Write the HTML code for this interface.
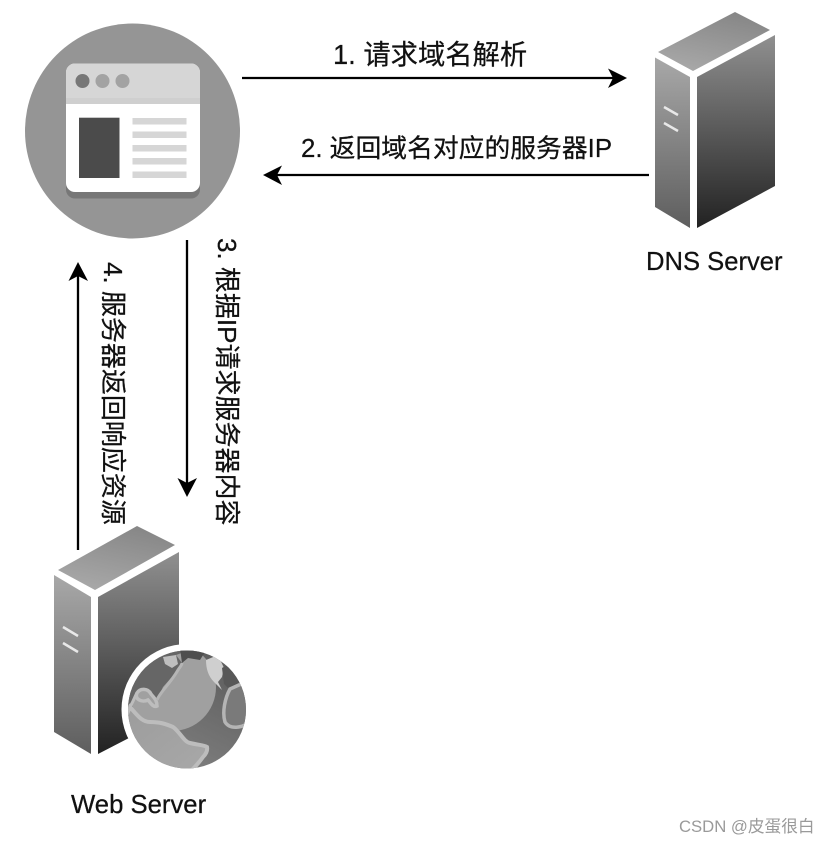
<!DOCTYPE html>
<html><head><meta charset="utf-8">
<style>
html,body{margin:0;padding:0;background:#fff;width:828px;height:844px;overflow:hidden}
svg{display:block}
text{font-family:"Liberation Sans","Noto Sans CJK SC",sans-serif;fill:#111;stroke:#111;stroke-width:.25}
</style></head>
<body>
<svg width="828" height="844" viewBox="0 0 828 844" xmlns="http://www.w3.org/2000/svg">
<defs>
<linearGradient id="top" x1="0.3" y1="1" x2="0.7" y2="0"><stop offset="0" stop-color="#a8a8a8"/><stop offset="1" stop-color="#868686"/></linearGradient>
<linearGradient id="left" x1="0" y1="0" x2="0" y2="1"><stop offset="0" stop-color="#a8a8a8"/><stop offset="1" stop-color="#5e5e5e"/></linearGradient>
<linearGradient id="right" x1="0" y1="0" x2="0" y2="1"><stop offset="0" stop-color="#909090"/><stop offset="1" stop-color="#222"/></linearGradient>
<linearGradient id="globe" x1="0.8" y1="0" x2="0.3" y2="1"><stop offset="0" stop-color="#5c5c5c"/><stop offset="1" stop-color="#808080"/></linearGradient>
<linearGradient id="land" x1="0" y1="0" x2="1" y2="1"><stop offset="0" stop-color="#9c9c9c"/><stop offset="1" stop-color="#a8a8a8"/></linearGradient>
<clipPath id="gc"><circle cx="187" cy="709.5" r="59"/></clipPath>
</defs>

<!-- browser icon -->
<circle cx="132.5" cy="131" r="107.5" fill="#959595"/>
<rect x="66" y="70" width="134" height="128.5" rx="9" fill="#777"/>
<rect x="66" y="63.5" width="134" height="128.5" rx="9" fill="#fff"/>
<path d="M66 104V72.5a9 9 0 0 1 9-9H191a9 9 0 0 1 9 9V104Z" fill="#cfcfcf"/>
<path d="M66 72.5a9 9 0 0 1 9-9H191a9 9 0 0 1 9 9V98H66Z" fill="#d6d6d6"/>
<circle cx="82.500" cy="81" r="7" fill="#777"/>
<circle cx="102.500" cy="81" r="7" fill="#a3a3a3"/>
<circle cx="122.500" cy="81" r="7" fill="#a3a3a3"/>
<rect x="79" y="117.700" width="40.500" height="60.300" fill="#4b4b4b"/>
<g fill="#d6d6d6">
<rect x="132.500" y="118" width="54" height="6.500"/>
<rect x="132.500" y="131.500" width="54" height="6.500"/>
<rect x="132.500" y="145" width="54" height="6.500"/>
<rect x="132.500" y="158" width="54" height="6.500"/>
<rect x="132.500" y="171.500" width="54" height="6.500"/>
</g>

<!-- DNS server -->
<polygon points="735,12 770,30 693,71 658,52" fill="url(#top)"/>
<polygon points="655,57.500 690,77 690,228 655,207" fill="url(#left)"/>
<polygon points="697,77 775,35 775,186 697,228" fill="url(#right)"/>
<path d="M664 107L678 115M664 123L678 131" stroke="#e8e8e8" stroke-width="2.500" fill="none"/>

<!-- Web server -->
<polygon points="137,526 175,545 95,590 58,570" fill="url(#top)"/>
<polygon points="54,575 91,597 91,754 54,732" fill="url(#left)"/>
<polygon points="98,597 179,552 179,712 98,754" fill="url(#right)"/>
<path d="M63 627L78 636M63 643L78 652" stroke="#e8e8e8" stroke-width="2.500" fill="none"/>

<!-- globe -->
<circle cx="187" cy="709.500" r="65.500" fill="#fff"/>
<circle cx="187" cy="709.500" r="59" fill="url(#globe)"/>
<g clip-path="url(#gc)">
<circle cx="172" cy="687" r="44" fill="#a0a0a0"/>
<path d="M120 707L130 707L137 693L145 690L157 700L163 687L178 670L182 663L176 655L190 650H120Z" fill="#666"/>
<path d="M130 707C138 716 142 722 150 722C160 722 166 724 173 727C180 732 184 742 190 743C198 745 204 745 207 747C208 752 204 756 203 757C198 764 194 768 190 772H150L120 730Z" fill="url(#land)" stroke="#bdbdbd" stroke-width="4"/>
<path d="M137 693C140 688 148 688 151 694C154 698 157 700 157 706C153 708 150 702 148 700C142 703 134 699 137 693Z" fill="#a0a0a0" stroke="#bdbdbd" stroke-width="3.500"/>
<path d="M130 707C134 700 135 696 137 693" fill="none" stroke="#bdbdbd" stroke-width="3"/>
<path d="M157 700C160 692 170 684 178 670C180 667 182 665 182 663" fill="none" stroke="#b5b5b5" stroke-width="3"/>
<path d="M163 657L176 655L178 664L172 668L165 664Z" fill="#bfbfbf"/>
<path d="M180 648L205 652L200 660L188 658L182 663Z" fill="#4e4e4e"/>
<path d="M206 660L218 655L224 668L222 677L218 682L222 690L214 682C208 676 206 668 206 660Z" fill="#cfcfcf"/>
<path d="M222 668L235 660L250 680L230 690L224 684Z" fill="#585858"/>
<path d="M230 689C225 698 222 712 225 722C230 730 242 728 250 722V680Z" fill="#7a7a7a" stroke="#b5b5b5" stroke-width="3.500"/>
</g>

<!-- arrows -->
<g stroke="#000" stroke-width="2.300" fill="none">
<path d="M242 78H615"/>
<path d="M649 175H276"/>
<path d="M187 240V485"/>
<path d="M78 550V275"/>
</g>
<g fill="#000">
<polygon points="627,78 608,68.500 613,78 608,88"/>
<polygon points="263,175 282,165.500 277,175 282,185"/>
<polygon points="187,497 177.500,478 187,483 197,478"/>
<polygon points="78,262 68.500,281 78,276 88,281"/>
</g>

<!-- labels -->
<text x="333" y="64" font-size="27.300">1. 请求域名解析</text>
<text x="301" y="157" font-size="25.800">2. 返回域名对应的服务器IP</text>
<text transform="translate(218,238) rotate(90)" font-size="26">3. 根据IP请求服务器内容</text>
<text transform="translate(104,262) rotate(90)" font-size="26">4. 服务器返回响应资源</text>
<text x="646" y="270" font-size="25.600">DNS Server</text>
<text x="71" y="813" font-size="25.700">Web Server</text>
<text x="679" y="832" font-size="16.700" style="fill:#9a9a9a;stroke:none">CSDN @皮蛋很白</text>
</svg>
</body></html>
